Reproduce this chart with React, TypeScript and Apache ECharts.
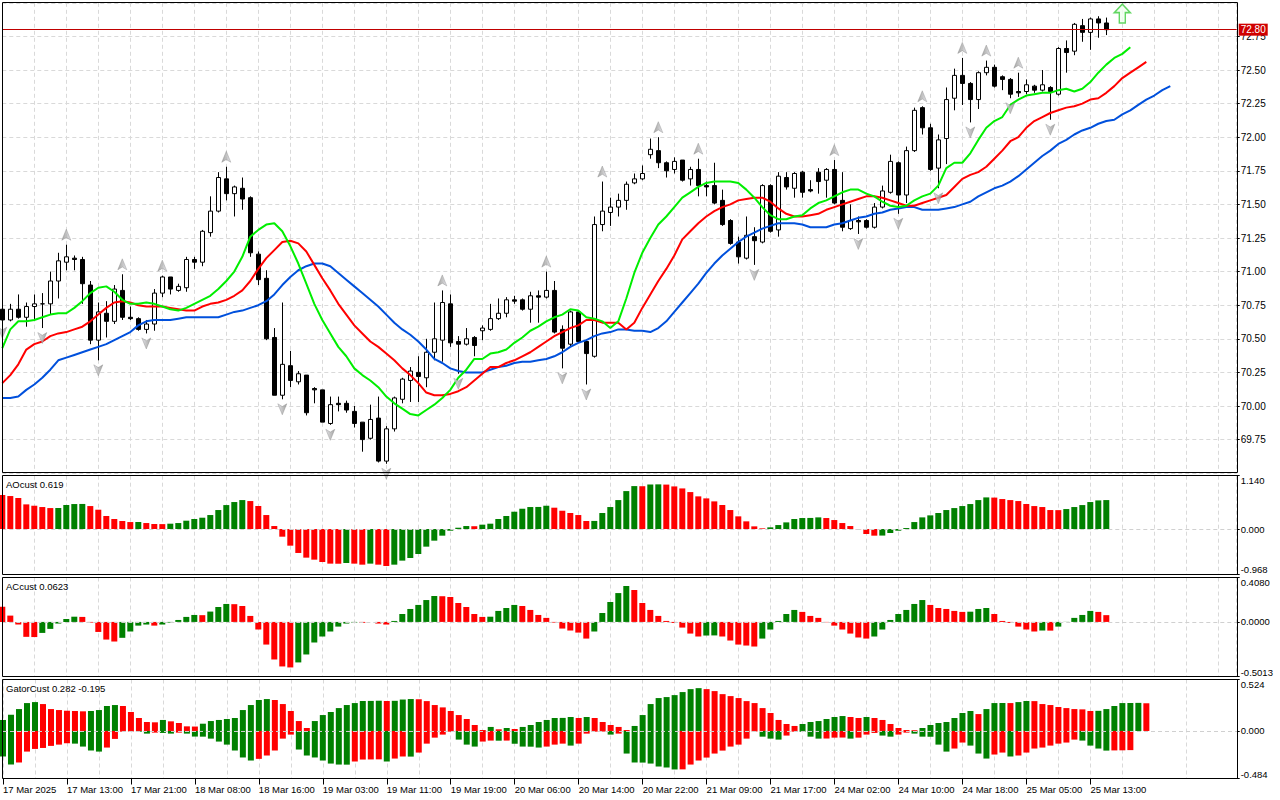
import React, { useEffect, useRef } from "react";
import * as echarts from "echarts";

// ---------- DATA ----------
const dateLabels = [
  "17 Mar 2025", "17 Mar 13:00", "17 Mar 21:00", "18 Mar 08:00", "18 Mar 16:00", "19 Mar 03:00",
  "19 Mar 11:00", "19 Mar 19:00", "20 Mar 06:00", "20 Mar 14:00", "20 Mar 22:00", "21 Mar 09:00",
  "21 Mar 17:00", "24 Mar 02:00", "24 Mar 10:00", "24 Mar 18:00", "25 Mar 05:00", "25 Mar 13:00",
];
const barsPerLabel = 8;

const openPrices = [
  70.72, 70.64, 70.72, 70.66, 70.74, 70.76, 70.76, 70.93, 71.07, 71.10,
  71.09, 70.90, 70.49, 70.69, 70.63, 70.86, 70.66, 70.65, 70.57, 70.61,
  70.84, 70.96, 70.86, 70.88, 71.09, 71.07, 71.29, 71.45, 71.69, 71.58,
  71.62, 71.55, 71.13, 70.95, 70.51, 70.08, 70.30, 70.18, 70.23, 70.13,
  70.12, 69.87, 70.02, 70.02, 69.96, 69.88, 69.76, 69.91, 69.59, 69.83,
  70.05, 70.19, 70.25, 70.21, 70.40, 70.49, 70.76, 70.48, 70.46, 70.51,
  70.56, 70.57, 70.65, 70.69, 70.79, 70.79, 70.72, 70.82, 70.81, 70.86,
  70.57, 70.46, 70.70, 70.48, 70.37, 71.35, 71.44, 71.48, 71.53, 71.66,
  71.69, 71.87, 71.90, 71.81, 71.76, 71.83, 71.69, 71.76, 71.64, 71.64,
  71.53, 71.38, 71.22, 71.10, 71.26, 71.22, 71.64, 71.31, 71.70, 71.62,
  71.74, 71.61, 71.74, 71.68, 71.76, 71.53, 71.32, 71.38, 71.38, 71.33,
  71.48, 71.59, 71.81, 71.57, 71.90, 72.22, 72.07, 71.77, 71.99, 72.29,
  72.46, 72.40, 72.28, 72.48, 72.52, 72.45, 72.43, 72.34, 72.34, 72.38,
  72.35, 72.37, 72.32, 72.66, 72.64, 72.83, 72.78, 72.88, 72.85,
];
const highPrices = [
  70.75, 70.76, 70.83, 70.77, 70.83, 70.84, 71.00, 71.14, 71.20, 71.12,
  71.11, 70.93, 70.77, 70.78, 70.90, 70.98, 70.74, 70.66, 70.64, 70.87,
  70.97, 70.96, 70.91, 71.11, 71.11, 71.31, 71.56, 71.74, 71.78, 71.64,
  71.70, 71.56, 71.15, 71.01, 70.58, 70.77, 70.41, 70.26, 70.23, 70.14,
  70.12, 70.07, 70.07, 70.04, 70.00, 69.88, 70.01, 70.07, 69.85, 70.07,
  70.21, 70.29, 70.37, 70.50, 70.77, 70.86, 70.83, 70.52, 70.58, 70.52,
  70.60, 70.76, 70.80, 70.81, 70.82, 70.80, 70.85, 70.86, 71.00, 70.93,
  70.60, 70.71, 70.71, 70.49, 71.41, 71.67, 71.55, 71.58, 71.67, 71.73,
  71.79, 71.99, 72.00, 71.82, 71.85, 71.83, 71.78, 71.84, 71.67, 71.81,
  71.61, 71.39, 71.26, 71.41, 71.33, 71.65, 71.65, 71.74, 71.74, 71.74,
  71.75, 71.68, 71.77, 71.77, 71.83, 71.74, 71.50, 71.41, 71.39, 71.51,
  71.64, 71.87, 71.82, 71.93, 72.22, 72.23, 72.10, 72.02, 72.37, 72.51,
  72.59, 72.41, 72.49, 72.57, 72.54, 72.46, 72.44, 72.48, 72.43, 72.39,
  72.50, 72.38, 72.67, 72.72, 72.85, 72.88, 72.89, 72.90, 72.89,
];
const lowPrices = [
  70.62, 70.63, 70.65, 70.59, 70.64, 70.58, 70.68, 70.80, 71.01, 71.01,
  70.76, 70.46, 70.34, 70.51, 70.61, 70.64, 70.64, 70.56, 70.54, 70.56,
  70.81, 70.83, 70.85, 70.85, 71.02, 71.04, 71.26, 71.44, 71.53, 71.41,
  71.46, 71.11, 70.90, 70.49, 70.08, 70.05, 70.14, 70.16, 69.93, 70.02,
  69.88, 69.86, 69.96, 69.95, 69.84, 69.66, 69.75, 69.58, 69.57, 69.81,
  70.02, 70.03, 70.03, 70.14, 70.34, 70.33, 70.44, 70.24, 70.45, 70.37,
  70.49, 70.56, 70.64, 70.66, 70.76, 70.71, 70.62, 70.62, 70.80, 70.54,
  70.28, 70.44, 70.47, 70.16, 70.36, 71.30, 71.34, 71.41, 71.46, 71.65,
  71.68, 71.84, 71.77, 71.70, 71.73, 71.67, 71.64, 71.56, 71.56, 71.50,
  71.34, 71.20, 71.06, 71.09, 71.05, 71.21, 71.29, 71.26, 71.61, 71.55,
  71.55, 71.59, 71.58, 71.55, 71.50, 71.30, 71.31, 71.28, 71.32, 71.32,
  71.47, 71.58, 71.43, 71.51, 71.89, 72.02, 71.75, 71.62, 71.80, 72.20,
  72.24, 72.11, 72.21, 72.46, 72.37, 72.35, 72.29, 72.30, 72.32, 72.33,
  72.34, 72.13, 72.31, 72.48, 72.61, 72.71, 72.65, 72.74, 72.76,
];
const closePrices = [
  70.64, 70.72, 70.66, 70.74, 70.76, 70.76, 70.93, 71.08, 71.11, 71.09,
  70.91, 70.49, 70.70, 70.63, 70.87, 70.66, 70.65, 70.57, 70.61, 70.84,
  70.96, 70.87, 70.89, 71.09, 71.07, 71.30, 71.45, 71.70, 71.58, 71.63,
  71.54, 71.14, 70.94, 70.50, 70.08, 70.31, 70.19, 70.24, 69.95, 70.12,
  69.88, 70.01, 70.01, 69.97, 69.87, 69.75, 69.90, 69.59, 69.83, 70.06,
  70.20, 70.26, 70.22, 70.40, 70.50, 70.77, 70.47, 70.46, 70.50, 70.45,
  70.58, 70.65, 70.69, 70.79, 70.78, 70.72, 70.82, 70.81, 70.86, 70.55,
  70.43, 70.70, 70.48, 70.39, 71.35, 71.45, 71.48, 71.53, 71.65, 71.69,
  71.73, 71.91, 71.81, 71.75, 71.82, 71.68, 71.76, 71.64, 71.63, 71.51,
  71.35, 71.21, 71.11, 71.27, 71.23, 71.64, 71.30, 71.71, 71.63, 71.73,
  71.59, 71.60, 71.67, 71.76, 71.51, 71.33, 71.38, 71.37, 71.33, 71.48,
  71.60, 71.82, 71.57, 71.90, 72.20, 72.07, 71.76, 71.98, 72.28, 72.46,
  72.40, 72.28, 72.48, 72.52, 72.38, 72.43, 72.32, 72.33, 72.39, 72.35,
  72.39, 72.34, 72.66, 72.63, 72.84, 72.78, 72.88, 72.85, 72.80,
];

// Alligator (already drawn with their forward shift: lips +3, teeth +5, jaw +8 bars)
const alligatorLips = [
  70.43, 70.57, 70.63, 70.63, 70.64, 70.66, 70.68, 70.69, 70.69, 70.73,
  70.78, 70.84, 70.88, 70.89, 70.85, 70.79, 70.76, 70.76, 70.77, 70.76,
  70.74, 70.72, 70.71, 70.73, 70.76, 70.79, 70.82, 70.87, 70.93, 71.00,
  71.11, 71.26, 71.31, 71.35, 71.36, 71.30, 71.19, 71.06, 70.91, 70.76,
  70.64, 70.54, 70.44, 70.37, 70.28, 70.23, 70.19, 70.14, 70.07, 70.02,
  69.98, 69.94, 69.93, 69.97, 70.01, 70.06, 70.12, 70.21, 70.27, 70.35,
  70.35, 70.39, 70.40, 70.42, 70.47, 70.51, 70.56, 70.59, 70.63, 70.66,
  70.68, 70.72, 70.71, 70.66, 70.65, 70.63, 70.58, 70.63, 70.80, 70.99,
  71.14, 71.25, 71.35, 71.41, 71.48, 71.55, 71.59, 71.63, 71.66, 71.67,
  71.67, 71.67, 71.66, 71.61, 71.55, 71.48, 71.42, 71.39, 71.39, 71.41,
  71.42, 71.47, 71.51, 71.53, 71.56, 71.59, 71.61, 71.61, 71.58, 71.56,
  71.52, 71.49, 71.48, 71.49, 71.53, 71.56, 71.58, 71.64, 71.77, 71.81,
  71.81, 71.88, 71.98, 72.07, 72.12, 72.15, 72.24, 72.28, 72.31, 72.32,
  72.33, 72.33, 72.35, 72.36, 72.34, 72.36, 72.41, 72.48, 72.54, 72.59,
  72.62, 72.67,
];
const alligatorTeeth = [
  70.17, 70.23, 70.31, 70.42, 70.46, 70.48, 70.52, 70.54, 70.55, 70.57,
  70.59, 70.63, 70.68, 70.73, 70.77, 70.78, 70.77, 70.75, 70.74, 70.74,
  70.74, 70.73, 70.72, 70.71, 70.71, 70.74, 70.76, 70.77, 70.79, 70.82,
  70.86, 70.93, 71.02, 71.10, 71.16, 71.22, 71.23, 71.21, 71.15, 71.05,
  70.95, 70.86, 70.76, 70.68, 70.60, 70.54, 70.48, 70.44, 70.39, 70.34,
  70.28, 70.23, 70.17, 70.10, 70.08, 70.08, 70.09, 70.11, 70.14, 70.19,
  70.24, 70.29, 70.29, 70.32, 70.34, 70.37, 70.40, 70.44, 70.48, 70.52,
  70.55, 70.58, 70.60, 70.64, 70.64, 70.62, 70.62, 70.62, 70.57, 70.62,
  70.73, 70.83, 70.93, 71.02, 71.12, 71.24, 71.30, 71.36, 71.41, 71.45,
  71.48, 71.50, 71.53, 71.54, 71.55, 71.55, 71.52, 71.47, 71.43, 71.41,
  71.41, 71.42, 71.43, 71.46, 71.48, 71.50, 71.52, 71.54, 71.56, 71.56,
  71.55, 71.53, 71.51, 71.49, 71.49, 71.51, 71.53, 71.55, 71.57, 71.63,
  71.69, 71.72, 71.74, 71.78, 71.84, 71.90, 71.97, 72.00, 72.07, 72.12,
  72.15, 72.18, 72.20, 72.22, 72.23, 72.25, 72.28, 72.29, 72.33, 72.38,
  72.44, 72.48, 72.52, 72.56,
];
const alligatorJaw = [
  70.06, 70.06, 70.07, 70.12, 70.16, 70.21, 70.27, 70.34, 70.36, 70.38,
  70.40, 70.42, 70.44, 70.46, 70.49, 70.52, 70.55, 70.60, 70.63, 70.64,
  70.64, 70.64, 70.65, 70.66, 70.66, 70.66, 70.66, 70.66, 70.68, 70.70,
  70.71, 70.73, 70.75, 70.78, 70.83, 70.90, 70.96, 71.01, 71.04, 71.06,
  71.06, 71.04, 70.99, 70.94, 70.89, 70.84, 70.79, 70.74, 70.68, 70.62,
  70.57, 70.53, 70.48, 70.42, 70.35, 70.32, 70.28, 70.26, 70.25, 70.25,
  70.25, 70.27, 70.29, 70.30, 70.32, 70.33, 70.33, 70.34, 70.35, 70.37,
  70.40, 70.44, 70.47, 70.49, 70.52, 70.54, 70.55, 70.57, 70.57, 70.56,
  70.56, 70.55, 70.58, 70.63, 70.70, 70.77, 70.84, 70.91, 70.99, 71.06,
  71.12, 71.17, 71.22, 71.26, 71.29, 71.32, 71.34, 71.36, 71.36, 71.36,
  71.35, 71.33, 71.33, 71.33, 71.35, 71.36, 71.38, 71.40, 71.41, 71.43,
  71.44, 71.46, 71.47, 71.48, 71.48, 71.46, 71.46, 71.46, 71.47, 71.48,
  71.50, 71.52, 71.56, 71.59, 71.62, 71.64, 71.67, 71.71, 71.76, 71.81,
  71.86, 71.90, 71.95, 71.98, 72.02, 72.05, 72.07, 72.10, 72.12, 72.13,
  72.17, 72.20, 72.24, 72.28, 72.31, 72.35, 72.38,
];

const fractalUpBars = [8, 15, 20, 28, 55, 68, 75, 82, 87, 104, 115, 120, 123, 127];
const fractalDownBars = [0, 5, 12, 18, 35, 41, 48, 57, 70, 73, 94, 107, 112, 117, 121, 126, 131];
const signalBar = 140;
const signalPrice = 72.92;

const aoValues = [
  0.726, 0.705, 0.662, 0.527, 0.498, 0.470, 0.448, 0.450, 0.512, 0.534,
  0.536, 0.491, 0.413, 0.278, 0.214, 0.171, 0.149, 0.150, 0.128, 0.107,
  0.105, 0.114, 0.128, 0.178, 0.214, 0.242, 0.299, 0.406, 0.512, 0.577,
  0.619, 0.598, 0.491, 0.299, 0.064, -0.164, -0.356, -0.512, -0.612, -0.655,
  -0.705, -0.740, -0.742, -0.726, -0.740, -0.762, -0.740, -0.762, -0.790, -0.762,
  -0.676, -0.620, -0.534, -0.377, -0.249, -0.142, -0.036, 0.028, 0.064, 0.060,
  0.093, 0.114, 0.214, 0.278, 0.370, 0.434, 0.470, 0.472, 0.498, 0.456,
  0.391, 0.342, 0.299, 0.171, 0.173, 0.342, 0.470, 0.619, 0.811, 0.918,
  0.915, 0.952, 0.955, 0.950, 0.911, 0.868, 0.790, 0.698, 0.655, 0.591,
  0.513, 0.406, 0.271, 0.164, 0.057, 0.014, 0.036, 0.085, 0.142, 0.214,
  0.235, 0.237, 0.249, 0.235, 0.192, 0.128, 0.064, -0.005, -0.107, -0.142,
  -0.140, -0.085, -0.036, 0.021, 0.149, 0.249, 0.292, 0.342, 0.406, 0.448,
  0.491, 0.534, 0.619, 0.676, 0.672, 0.641, 0.619, 0.598, 0.534, 0.491,
  0.470, 0.406, 0.404, 0.427, 0.470, 0.512, 0.577, 0.612, 0.619,
];
const acValues = [
  0.140, 0.058, -0.024, -0.137, -0.139, -0.101, -0.064, -0.015, 0.027, 0.048,
  0.046, -0.006, -0.092, -0.162, -0.180, -0.146, -0.088, -0.034, -0.024, -0.034,
  -0.024, -0.006, 0.018, 0.046, 0.064, 0.062, 0.095, 0.137, 0.165, 0.163,
  0.146, 0.055, -0.070, -0.208, -0.345, -0.409, -0.418, -0.372, -0.299, -0.189,
  -0.134, -0.088, -0.043, -0.015, -0.006, -0.008, 0.000, -0.015, -0.024, 0.009,
  0.073, 0.119, 0.156, 0.201, 0.238, 0.236, 0.229, 0.174, 0.137, 0.073,
  0.046, 0.048, 0.101, 0.128, 0.156, 0.146, 0.110, 0.064, 0.037, -0.006,
  -0.061, -0.079, -0.098, -0.153, -0.088, 0.082, 0.183, 0.265, 0.330, 0.293,
  0.174, 0.110, 0.055, 0.009, -0.009, -0.052, -0.107, -0.134, -0.125, -0.124,
  -0.134, -0.171, -0.208, -0.217, -0.226, -0.153, -0.070, 0.009, 0.073, 0.110,
  0.092, 0.055, 0.037, -0.003, -0.034, -0.070, -0.107, -0.143, -0.153, -0.134,
  -0.070, 0.018, 0.073, 0.110, 0.165, 0.201, 0.156, 0.128, 0.119, 0.101,
  0.092, 0.094, 0.119, 0.128, 0.073, 0.009, -0.009, -0.043, -0.070, -0.088,
  -0.079, -0.080, -0.043, 0.001, 0.037, 0.064, 0.101, 0.092, 0.0623,
];
const gatorUpper = [
  0.112, 0.166, 0.223, 0.284, 0.294, 0.274, 0.223, 0.213, 0.206, 0.203,
  0.200, 0.203, 0.213, 0.254, 0.264, 0.254, 0.193, 0.132, 0.091, 0.088,
  0.112, 0.098, 0.081, 0.047, 0.045, 0.074, 0.101, 0.112, 0.122, 0.132,
  0.213, 0.264, 0.315, 0.325, 0.315, 0.274, 0.203, 0.101, 0.030, 0.101,
  0.162, 0.193, 0.233, 0.264, 0.284, 0.305, 0.306, 0.308, 0.305, 0.307,
  0.320, 0.325, 0.323, 0.304, 0.264, 0.240, 0.203, 0.162, 0.122, 0.061,
  0.010, 0.041, 0.017, 0.030, 0.020, 0.041, 0.061, 0.091, 0.112, 0.132,
  0.133, 0.142, 0.132, 0.142, 0.132, 0.091, 0.061, 0.041, 0.010, 0.051,
  0.162, 0.274, 0.335, 0.345, 0.365, 0.396, 0.426, 0.436, 0.426, 0.406,
  0.375, 0.355, 0.335, 0.304, 0.284, 0.233, 0.183, 0.112, 0.071, 0.051,
  0.071, 0.091, 0.101, 0.122, 0.142, 0.152, 0.142, 0.132, 0.142, 0.132,
  0.112, 0.071, 0.030, 0.010, 0.008, 0.030, 0.061, 0.081, 0.091, 0.132,
  0.183, 0.203, 0.172, 0.223, 0.284, 0.285, 0.284, 0.294, 0.305, 0.304,
  0.274, 0.264, 0.244, 0.233, 0.223, 0.220, 0.203, 0.205, 0.223, 0.254,
  0.284, 0.285, 0.286, 0.282,
];
const gatorLower = [
  -0.260, -0.342, -0.321, -0.210, -0.183, -0.173, -0.152, -0.139, -0.125, -0.129,
  -0.159, -0.199, -0.210, -0.169, -0.081, -0.007, -0.005, -0.007, -0.027, -0.017,
  -0.020, -0.027, -0.017, -0.027, -0.057, -0.058, -0.078, -0.108, -0.139, -0.199,
  -0.270, -0.301, -0.284, -0.250, -0.199, -0.078, -0.037, -0.189, -0.250, -0.270,
  -0.301, -0.332, -0.342, -0.343, -0.311, -0.291, -0.290, -0.289, -0.311, -0.281,
  -0.260, -0.261, -0.220, -0.129, -0.068, -0.037, -0.007, -0.088, -0.139, -0.159,
  -0.108, -0.098, -0.099, -0.098, -0.129, -0.159, -0.160, -0.169, -0.159, -0.139,
  -0.129, -0.149, -0.129, -0.027, -0.007, -0.006, -0.037, -0.027, -0.230, -0.321,
  -0.322, -0.332, -0.362, -0.372, -0.392, -0.391, -0.342, -0.301, -0.271, -0.230,
  -0.200, -0.159, -0.139, -0.078, -0.005, -0.058, -0.078, -0.088, -0.047, -0.007,
  -0.008, -0.058, -0.078, -0.077, -0.068, -0.067, -0.078, -0.068, -0.037, -0.020,
  -0.047, -0.058, -0.037, -0.017, -0.027, -0.058, -0.059, -0.139, -0.210, -0.179,
  -0.118, -0.149, -0.230, -0.281, -0.240, -0.220, -0.260, -0.250, -0.220, -0.179,
  -0.169, -0.149, -0.129, -0.118, -0.088, -0.098, -0.149, -0.179, -0.200, -0.198,
  -0.197, -0.195,
];

const aoRange = { min: -0.968, max: 1.14 };
const acRange = { min: -0.5013, max: 0.408 };
const gatorRange = { min: -0.484, max: 0.524 };
const priceAxis = { min: 69.5, max: 73.0, step: 0.25 };

// ---------- STYLE / LAYOUT ----------
const FONT = "Liberation Sans";
const UP = "#008000";
const DOWN = "#ff0000";
const GRID_LINE = { color: "#d9d9d9", type: [4, 3] as number[], width: 1 };
const PLOT_LEFT = 2.3;
const PLOT_WIDTH = 1234.4;
const SLOTS = PLOT_WIDTH / 8; // visible bar slots

function histogram(values: number[], firstUp: boolean, byMagnitude: boolean) {
  return values.map((v, i) => {
    let up = firstUp;
    if (i > 0) {
      const a = byMagnitude ? Math.abs(v) : v;
      const b = byMagnitude ? Math.abs(values[i - 1]) : values[i - 1];
      up = a > b;
    }
    return { value: [i, v], itemStyle: { color: up ? UP : DOWN } };
  });
}

function edgeAxisLabel(min: number, max: number, digits: number) {
  return {
    customValues: [min, 0, max],
    margin: 4,
    color: "#000",
    fontSize: 9.5,
    fontFamily: FONT,
    formatter: (v: number) => {
      const s = v.toFixed(digits);
      if (Math.abs(v - max) < 1e-9) return `{t|${s}}`;
      if (Math.abs(v - min) < 1e-9) return `{b|${s}}`;
      return `{m|${s}}`;
    },
    rich: {
      t: { padding: [9, 0, 0, 0], fontSize: 9.5, fontFamily: FONT, color: "#000" },
      b: { padding: [0, 0, 9, 0], fontSize: 9.5, fontFamily: FONT, color: "#000" },
      m: { fontSize: 9.5, fontFamily: FONT, color: "#000" },
    },
  };
}

const zeroLine = {
  silent: true,
  symbol: ["none", "none"],
  label: { show: false },
  lineStyle: { color: "#d0d0d0", type: [4, 3], width: 1 },
  data: [{ yAxis: 0 }],
};

export default function App() {
  const ref = useRef<HTMLDivElement>(null);

  useEffect(() => {
    if (!ref.current) return;
    const chart = echarts.init(ref.current, undefined, { renderer: "svg" });

    const grids = [
      { left: PLOT_LEFT, width: PLOT_WIDTH, top: 2.8, height: 470.4 },
      { left: PLOT_LEFT, width: PLOT_WIDTH, top: 475.7, height: 98.6 },
      { left: PLOT_LEFT, width: PLOT_WIDTH, top: 577.5, height: 99 },
      { left: PLOT_LEFT, width: PLOT_WIDTH, top: 679.5, height: 99 },
    ];

    const labelPositions = dateLabels.map((_, i) => i * barsPerLabel);

    const xAxes = grids.map((_, gi) => ({
      type: "value",
      gridIndex: gi,
      position: "bottom",
      min: 0,
      max: SLOTS,
      interval: barsPerLabel,
      axisLine: { show: false, onZero: false },
      axisTick: {
        show: gi === 3,
        length: 6,
        customValues: gi === 3 ? labelPositions : undefined,
        lineStyle: { color: "#000" },
      },
      axisLabel: {
        show: gi === 3,
        align: "left",
        margin: 6,
        color: "#000",
        fontSize: 9.5,
        fontFamily: FONT,
        customValues: gi === 3 ? labelPositions : undefined,
        formatter: (v: number) => {
          if (v % barsPerLabel !== 0) return "";
          return dateLabels[v / barsPerLabel] ?? "";
        },
      },
      splitLine: { show: true, lineStyle: GRID_LINE },
      minorTick: { show: false, splitNumber: 2 },
      minorSplitLine: { show: true, lineStyle: GRID_LINE },
    }));

    const yAxes: any[] = [
      {
        type: "value",
        gridIndex: 0,
        position: "right",
        min: priceAxis.min,
        max: priceAxis.max,
        interval: priceAxis.step,
        axisLine: { show: false, onZero: false },
        axisTick: { show: true, length: 3, lineStyle: { color: "#000" } },
        axisLabel: {
          margin: 4,
          color: "#000",
          fontSize: 10,
          fontFamily: FONT,
          showMinLabel: false,
          showMaxLabel: false,
          formatter: (v: number) => v.toFixed(2),
        },
        splitLine: { show: true, lineStyle: GRID_LINE },
      },
      {
        type: "value",
        gridIndex: 1,
        position: "right",
        min: aoRange.min,
        max: aoRange.max,
        axisLine: { show: false, onZero: false },
        axisTick: { show: true, length: 3, customValues: [aoRange.min, 0, aoRange.max], lineStyle: { color: "#000" } },
        axisLabel: edgeAxisLabel(aoRange.min, aoRange.max, 3),
        splitLine: { show: false },
      },
      {
        type: "value",
        gridIndex: 2,
        position: "right",
        min: acRange.min,
        max: acRange.max,
        axisLine: { show: false, onZero: false },
        axisTick: { show: true, length: 3, customValues: [acRange.min, 0, acRange.max], lineStyle: { color: "#000" } },
        axisLabel: edgeAxisLabel(acRange.min, acRange.max, 4),
        splitLine: { show: false },
      },
      {
        type: "value",
        gridIndex: 3,
        position: "right",
        min: gatorRange.min,
        max: gatorRange.max,
        axisLine: { show: false, onZero: false },
        axisTick: { show: true, length: 3, customValues: [gatorRange.min, 0, gatorRange.max], lineStyle: { color: "#000" } },
        axisLabel: edgeAxisLabel(gatorRange.min, gatorRange.max, 3),
        splitLine: { show: false },
      },
    ];

    const candles = openPrices.map((o, i) => [i, o, closePrices[i], lowPrices[i], highPrices[i]]);
    const last = closePrices.length - 1;
    const lineData = (arr: number[]) => arr.map((v, i) => [i, v]);

    const arrowPath = "path://M5,0 L10,12 L5,9 L0,12 Z";
    const signalPath = "path://M8,0 L16,9 L11,9 L11,20 L5,20 L5,9 L0,9 Z";
    const fractalFill = new echarts.graphic.LinearGradient(0, 0, 1, 0, [
      { offset: 0, color: "#8e8e8e" },
      { offset: 0.5, color: "#b4b4b4" },
      { offset: 1, color: "#dcdce4" },
    ]);

    const panes = [
      { y: 2.5, h: 470 },
      { y: 475.5, h: 99 },
      { y: 577.5, h: 99 },
      { y: 679.5, h: 99 },
    ];

    const titles = [
      { y: 479, text: `AOcust ${aoValues[aoValues.length - 1].toFixed(3)}` },
      { y: 581, text: `ACcust ${acValues[acValues.length - 1].toFixed(4)}` },
      {
        y: 683,
        text: `GatorCust ${gatorUpper[gatorUpper.length - 1].toFixed(3)} ${gatorLower[gatorLower.length - 1].toFixed(3)}`,
      },
    ];

    const option: any = {
      animation: false,
      backgroundColor: "#ffffff",
      grid: grids,
      xAxis: xAxes,
      yAxis: yAxes,
      graphic: [
        ...panes.map((p) => ({
          type: "rect",
          z: 100,
          silent: true,
          shape: { x: 2.5, y: p.y, width: 1235, height: p.h },
          style: { fill: "none", stroke: "#000", lineWidth: 1 },
        })),
        ...titles.map((t) => ({
          type: "text",
          z: 101,
          x: 6,
          y: t.y,
          style: { text: t.text, fill: "#000", fontSize: 9.5, fontFamily: FONT },
        })),
      ],
      series: [
        {
          name: "price",
          type: "candlestick",
          xAxisIndex: 0,
          yAxisIndex: 0,
          z: 2,
          barWidth: 5,
          dimensions: ["bar", "open", "close", "low", "high"],
          encode: { x: 0, y: [1, 2, 3, 4] },
          data: candles,
          itemStyle: {
            color: "#ffffff",
            color0: "#000000",
            borderColor: "#000000",
            borderColor0: "#000000",
            borderWidth: 1,
          },
          markLine: {
            silent: true,
            symbol: ["none", "none"],
            lineStyle: { color: "#c00000", width: 1, type: "solid" },
            label: {
              show: true,
              position: "end",
              distance: 2,
              formatter: closePrices[last].toFixed(2),
              color: "#ffffff",
              backgroundColor: "#d00000",
              padding: [1, 2, 1, 2],
              fontSize: 10,
              fontFamily: FONT,
            },
            data: [{ yAxis: closePrices[last] }],
          },
        },
        {
          name: "jaw",
          type: "line",
          xAxisIndex: 0,
          yAxisIndex: 0,
          z: 3,
          showSymbol: false,
          data: lineData(alligatorJaw),
          lineStyle: { color: "#0050dc", width: 2 },
        },
        {
          name: "teeth",
          type: "line",
          xAxisIndex: 0,
          yAxisIndex: 0,
          z: 3,
          showSymbol: false,
          data: lineData(alligatorTeeth),
          lineStyle: { color: "#ff0000", width: 2 },
        },
        {
          name: "lips",
          type: "line",
          xAxisIndex: 0,
          yAxisIndex: 0,
          z: 3,
          showSymbol: false,
          data: lineData(alligatorLips),
          lineStyle: { color: "#00ee00", width: 2 },
        },
        {
          name: "fractalUp",
          type: "scatter",
          xAxisIndex: 0,
          yAxisIndex: 0,
          z: 4,
          symbol: arrowPath,
          symbolSize: [9, 11],
          symbolOffset: [0, -10],
          data: fractalUpBars.map((k) => [k, highPrices[k]]),
          itemStyle: { color: fractalFill, borderColor: "#8a8a8a", borderWidth: 0.5 },
        },
        {
          name: "fractalDown",
          type: "scatter",
          xAxisIndex: 0,
          yAxisIndex: 0,
          z: 4,
          symbol: arrowPath,
          symbolRotate: 180,
          symbolSize: [9, 11],
          symbolOffset: [0, 10],
          data: fractalDownBars.map((k) => [k, lowPrices[k]]),
          itemStyle: { color: fractalFill, borderColor: "#8a8a8a", borderWidth: 0.5 },
        },
        {
          name: "signal",
          type: "scatter",
          xAxisIndex: 0,
          yAxisIndex: 0,
          z: 4,
          symbol: signalPath,
          symbolSize: [16, 19],
          data: [[signalBar, signalPrice]],
          itemStyle: { color: "#f0fff0", borderColor: "#3ccc3c", borderWidth: 1.5 },
        },
        {
          name: "AO",
          type: "bar",
          xAxisIndex: 1,
          yAxisIndex: 1,
          barWidth: 6,
          data: histogram(aoValues, false, false),
          markLine: zeroLine,
        },
        {
          name: "AC",
          type: "bar",
          xAxisIndex: 2,
          yAxisIndex: 2,
          barWidth: 6,
          data: histogram(acValues, false, false),
          markLine: zeroLine,
        },
        {
          name: "GatorUp",
          type: "bar",
          xAxisIndex: 3,
          yAxisIndex: 3,
          barWidth: 6,
          barGap: "-100%",
          data: histogram(gatorUpper, true, true),
        },
        {
          name: "GatorDown",
          type: "bar",
          xAxisIndex: 3,
          yAxisIndex: 3,
          barWidth: 6,
          barGap: "-100%",
          data: histogram(gatorLower, true, true),
          markLine: zeroLine,
        },
      ],
    };

    chart.setOption(option);
    return () => chart.dispose();
  }, []);

  return (
    <div
      ref={ref}
      style={{ position: "fixed", left: 0, top: 0, width: 1280, height: 800, background: "#ffffff" }}
    />
  );
}
